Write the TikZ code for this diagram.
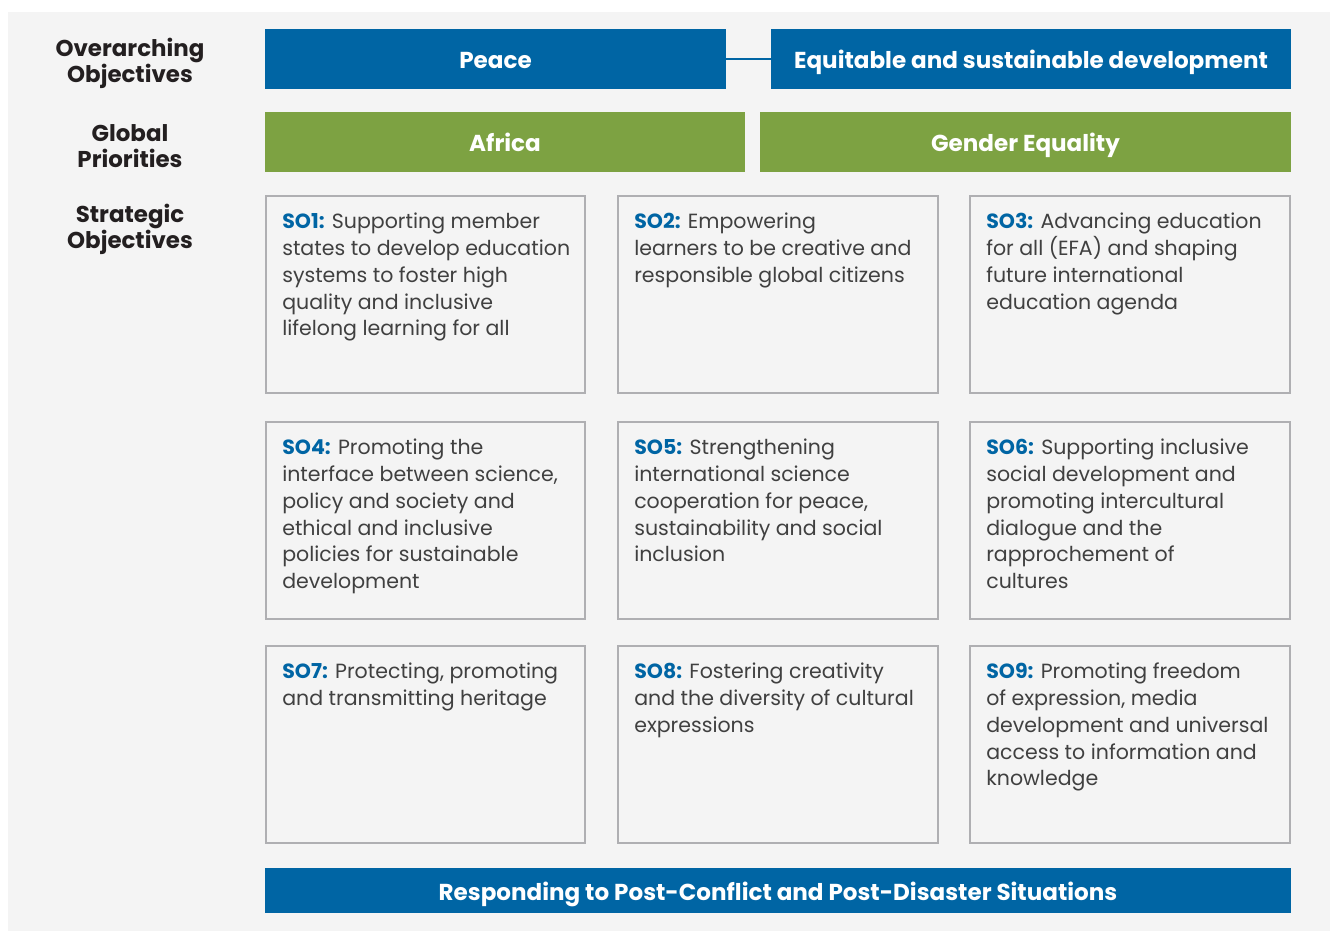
\documentclass[tikz,border=0pt]{standalone}
\usepackage{fontspec}
\setmainfont{Poppins}
\usepackage{xcolor}
\usetikzlibrary{fit}
\definecolor{unblue}{HTML}{0065A4}
\definecolor{ungreen}{HTML}{7DA242}
\definecolor{panel}{HTML}{F4F4F4}
\definecolor{frame}{HTML}{AFAFB2}
\definecolor{bodytext}{HTML}{404040}
\definecolor{heading}{HTML}{231F20}
\newcommand{\solabel}[1]{\textcolor{unblue}{\bfseries SO#1:}}

\begin{document}
\begin{tikzpicture}[x=0.025cm, y=-0.025cm,
    bar/.style={fill=#1, draw=none, inner sep=0pt},
    bartext/.style={text=white, inner sep=0pt, text height=16pt, text depth=1.8pt,
      font=\bfseries\fontsize{16.4}{19}\selectfont},
    sobox/.style={draw=frame, line width=1.4pt, inner sep=0pt},
    sotext/.style={anchor=north west, inner sep=0pt, align=left, text=bodytext,
      font=\fontsize{14.6}{19}\selectfont},
    side/.style={align=center, inner sep=0pt, text=heading,
      font=\bfseries\fontsize{16.3}{18.5}\selectfont}]
  \useasboundingbox (0,0) rectangle (1330,931);
  \fill[panel] (8,12) rectangle (1330,931);

  \node[side] (over) at (130,63) {Overarching\\Objectives};
  \node[side] (glob) at (130,146) {Global\\Priorities};
  \node[side] (strat) at (130,229) {Strategic\\Objectives};

  \node[bar=unblue, fit={(265,29) (726,89)}, label={[bartext]center:Peace}] (peace) {};
  \node[bar=unblue, fit={(771,29) (1291,89)}, label={[bartext]center:Equitable and sustainable development}] (equit) {};
  \draw[unblue, line width=2pt] (peace) -- (equit);

  \node[bar=ungreen, fit={(265,112) (745,172)}, label={[bartext]center:Africa}] (africa) {};
  \node[bar=ungreen, fit={(760,112) (1291,172)}, label={[bartext]center:Gender Equality}] (gender) {};

  \node[sobox, fit={(266,196) (585,393)}] (so1) {};
  \node[sobox, fit={(618,196) (938,393)}] (so2) {};
  \node[sobox, fit={(970,196) (1290,393)}] (so3) {};
  \node[sobox, fit={(266,422) (585,619)}] (so4) {};
  \node[sobox, fit={(618,422) (938,619)}] (so5) {};
  \node[sobox, fit={(970,422) (1290,619)}] (so6) {};
  \node[sobox, fit={(266,646) (585,843)}] (so7) {};
  \node[sobox, fit={(618,646) (938,843)}] (so8) {};
  \node[sobox, fit={(970,646) (1290,843)}] (so9) {};

  \node[sotext] (so1t) at (282,213) {\solabel{1} Supporting member\\states to develop education\\systems to foster high\\quality and inclusive\\lifelong learning for all};
  \node[sotext] (so2t) at (634,213) {\solabel{2} Empowering\\learners to be creative and\\responsible global citizens};
  \node[sotext] (so3t) at (986,213) {\solabel{3} Advancing education\\for all (EFA) and shaping\\future international\\education agenda};
  \node[sotext] (so4t) at (282,439) {\solabel{4} Promoting the\\interface between science,\\policy and society and\\ethical and inclusive\\policies for sustainable\\development};
  \node[sotext] (so5t) at (634,439) {\solabel{5} Strengthening\\international science\\cooperation for peace,\\sustainability and social\\inclusion};
  \node[sotext] (so6t) at (986,439) {\solabel{6} Supporting inclusive\\social development and\\promoting intercultural\\dialogue and the\\rapprochement of\\cultures};
  \node[sotext] (so7t) at (282,663) {\solabel{7} Protecting, promoting\\and transmitting heritage};
  \node[sotext] (so8t) at (634,663) {\solabel{8} Fostering creativity\\and the diversity of cultural\\expressions};
  \node[sotext] (so9t) at (986,663) {\solabel{9} Promoting freedom\\of expression, media\\development and universal\\access to information and\\knowledge};

  \node[bar=unblue, fit={(265,868) (1291,913)}, label={[bartext]center:Responding to Post-Conflict and Post-Disaster Situations}] (resp) {};
\end{tikzpicture}
\end{document}
